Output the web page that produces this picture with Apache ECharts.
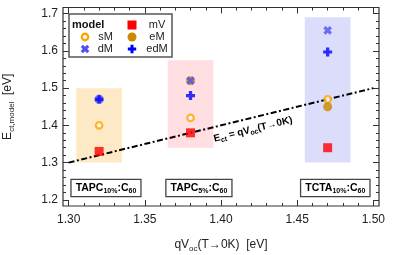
<!DOCTYPE html>
<html><head><meta charset="utf-8">
<script src="https://cdn.jsdelivr.net/npm/echarts@6/dist/echarts.min.js"></script>
<style>html,body{margin:0;padding:0;background:#fff}#c{width:407px;height:255px}</style>
</head><body><div id="c"></div>
<script>
// ---- data ----
const groupX = [1.32, 1.38, 1.47];
const mV  = [1.33, 1.38, 1.34];
const sM  = [1.40, 1.42, 1.47];
const eM  = [null, 1.52, 1.45];
const dM  = [1.47, 1.52, 1.655];
const edM = [1.47, 1.48, 1.597];
const rectX = [[1.305, 1.335], [1.365, 1.395], [1.455, 1.485]];
const rectY = [[1.30, 1.50], [1.34, 1.575], [1.30, 1.69]];
const rectColors = ['#fde9c6', '#ffdfe2', '#dcdcfb'];
const diagLine = [[1.30, 1.30], [1.50, 1.50]];
const xTicks = [1.30, 1.35, 1.40, 1.45, 1.50];
const yTicks = [1.2, 1.3, 1.4, 1.5, 1.6, 1.7];
const boxLabelX = [1.3245, 1.3855, 1.475];
const boxLabelY = 1.232;
const boxTexts = [['TAPC', '10%', ':C', '60'], ['TAPC', '5%', ':C', '60'], ['TCTA', '10%', ':C', '60']];
const lineLabelPos = [1.421, 1.389];

const xMin = 1.2963, xMax = 1.5037, yMin = 1.1835, yMax = 1.7165;
const minorX = []; for (let i = 0; i <= 20; i++) minorX.push(+(1.30 + i * 0.01).toFixed(2));
const minorY = []; for (let i = 0; i <= 25; i++) minorY.push(+(1.2 + i * 0.02).toFixed(2));

const FONT = 'Liberation Sans, Arial, sans-serif';
const TXT = '#222';
const TICK = '#333';
const C = { mV: '#ff0000', sM: '#ffa500', eM: '#cc8800', dM: '#5050f5', edM: '#0000ff' };
const PLUS = 'path://M3.2,0H6.8V3.2H10V6.8H6.8V10H3.2V6.8H0V3.2H3.2Z';

const rich = {
  n: { fontSize: 12, lineHeight: 16, color: TXT, fontFamily: FONT },
  s: { fontSize: 8, lineHeight: 8, verticalAlign: 'bottom', color: TXT, fontFamily: FONT }
};

function xAx(pos, major, showLabel, extra) {
  return Object.assign({
    type: 'value', position: pos, min: xMin, max: xMax, gridIndex: 0,
    axisLine: { show: false }, splitLine: { show: false },
    axisTick: { show: true, inside: true, length: major ? 6 : 3, customValues: major ? xTicks : minorX, lineStyle: { color: TICK, width: 1 } },
    axisLabel: { show: showLabel, customValues: xTicks, formatter: v => v.toFixed(2), color: TXT, fontSize: 12, margin: 8, fontFamily: FONT }
  }, extra || {});
}
function yAx(pos, major, showLabel, extra) {
  return Object.assign({
    type: 'value', position: pos, min: yMin, max: yMax, gridIndex: 0,
    axisLine: { show: false }, splitLine: { show: false },
    axisTick: { show: true, inside: true, length: major ? 6 : 3, customValues: major ? yTicks : minorY, lineStyle: { color: TICK, width: 1 } },
    axisLabel: { show: showLabel, customValues: yTicks, formatter: v => v.toFixed(1), color: TXT, fontSize: 12, margin: 5, fontFamily: FONT }
  }, extra || {});
}

function pts(arr) { return groupX.map((x, i) => arr[i] == null ? null : [x, arr[i]]).filter(p => p); }

const chart = echarts.init(document.getElementById('c'), null, { renderer: 'canvas' });
chart.setOption({
  animation: false,
  backgroundColor: '#fff',
  grid: { left: 63, right: 28, top: 7.5, bottom: 49, containLabel: false, outerBoundsMode: 'none', show: true, borderColor: '#333', borderWidth: 1.2, backgroundColor: 'transparent' },
  xAxis: [
    xAx('bottom', true, true, {
      name: '{n|qV}{s|oc}{n|(T→0K)  [eV]}', nameLocation: 'middle', nameGap: 31,
      nameTextStyle: { rich: rich }
    }),
    xAx('bottom', false, false),
    xAx('top', true, false),
    xAx('top', false, false)
  ],
  yAxis: [
    yAx('left', true, true, {
      name: '{n|E}{s|ct,model}{n|  [eV]}', nameLocation: 'middle', nameGap: 47, nameRotate: 90,
      nameTextStyle: { rich: rich }
    }),
    yAx('left', false, false),
    yAx('right', true, false),
    yAx('right', false, false)
  ],
  series: [
    {
      type: 'line', name: 'diag', data: diagLine, symbol: 'none', silent: true, z: 3,
      lineStyle: { color: '#000', width: 2, type: [6, 2.5, 2, 2.5] },
      markArea: {
        silent: true,
        data: rectX.map((rx, i) => [
          { xAxis: rx[0], yAxis: rectY[i][0], itemStyle: { color: rectColors[i] } },
          { xAxis: rx[1], yAxis: rectY[i][1] }
        ])
      }
    },
    { type: 'scatter', name: 'mV', data: pts(mV), symbol: 'rect', symbolSize: 9, itemStyle: { color: C.mV }, z: 4 },
    { type: 'scatter', name: 'sM', data: pts(sM), symbol: 'circle', symbolSize: 6.5, itemStyle: { color: '#fff', borderColor: C.sM, borderWidth: 2.3 }, z: 4 },
    { type: 'scatter', name: 'eM', data: pts(eM), symbol: 'circle', symbolSize: 9, itemStyle: { color: C.eM }, z: 4 },
    { type: 'scatter', name: 'dM', data: pts(dM), symbol: PLUS, symbolRotate: 45, symbolSize: 9, itemStyle: { color: C.dM }, z: 5 },
    { type: 'scatter', name: 'edM', data: pts(edM), symbol: PLUS, symbolSize: 9, itemStyle: { color: C.edM }, z: 5 }
  ]
});

// annotations positioned through the axes
const g = [];
const boxRich = {
  b: { fontSize: 10.5, fontWeight: 'bold', color: '#111', fontFamily: FONT, lineHeight: 13 },
  bs: { fontSize: 7, fontWeight: 'bold', color: '#111', fontFamily: FONT, lineHeight: 7, verticalAlign: 'bottom' }
};
boxTexts.forEach((t, i) => {
  const p = chart.convertToPixel({ gridIndex: 0 }, [boxLabelX[i], boxLabelY]);
  g.push({
    type: 'text', x: p[0], y: p[1], z: 20,
    style: {
      text: '{b|' + t[0] + '}{bs|' + t[1] + '}{b|' + t[2] + '}{bs|' + t[3] + '}',
      rich: boxRich, align: 'center', verticalAlign: 'middle', textAlign: 'center', textVerticalAlign: 'middle',
      backgroundColor: '#fff', borderColor: '#444', borderWidth: 1.3, padding: [2, 4, 1, 4]
    }
  });
});
const a = chart.convertToPixel({ gridIndex: 0 }, diagLine[0]);
const b = chart.convertToPixel({ gridIndex: 0 }, diagLine[1]);
const ang = Math.atan2(a[1] - b[1], b[0] - a[0]);
const lp = chart.convertToPixel({ gridIndex: 0 }, lineLabelPos);
g.push({
  type: 'text', x: lp[0], y: lp[1], rotation: ang, z: 20,
  style: {
    text: '{b|E}{bs|ct}{b| = qV}{bs|oc}{b|(T→0K)}',
    rich: {
      b: { fontSize: 10, fontWeight: 'bold', color: '#111', fontFamily: FONT, lineHeight: 13 },
      bs: { fontSize: 7, fontWeight: 'bold', color: '#111', fontFamily: FONT, lineHeight: 7, verticalAlign: 'bottom' }
    },
    align: 'center', verticalAlign: 'middle', textAlign: 'center', textVerticalAlign: 'middle'
  }
});

// legend box
const LX = 69, LY = 14;
g.push({ type: 'rect', shape: { x: LX, y: LY, width: 103, height: 43 }, style: { fill: '#fff', stroke: '#555', lineWidth: 1.5 }, z: 20 });
g.push({ type: 'text', x: 72, y: 25, z: 21, style: { text: 'model', font: 'bold 11px ' + FONT, fill: '#111', align: 'left', verticalAlign: 'middle', textAlign: 'left', textVerticalAlign: 'middle' } });
const rows = [25, 37, 49];
const c1 = 85, c2 = 132;
function lab(txt, x, y, al) {
  g.push({ type: 'text', x: x, y: y, z: 21, style: { text: txt, font: '11px ' + FONT, fill: TXT, align: al, verticalAlign: 'middle', textAlign: al, textVerticalAlign: 'middle' } });
}
// mV
g.push({ type: 'rect', shape: { x: c2 - 4.5, y: rows[0] - 4.5, width: 9, height: 9 }, style: { fill: C.mV }, z: 21 });
lab('mV', 157, rows[0], 'center');
// sM
g.push({ type: 'circle', shape: { cx: c1, cy: rows[1], r: 3.25 }, style: { fill: '#fff', stroke: C.sM, lineWidth: 2.3 }, z: 21 });
lab('sM', 113, rows[1], 'right');
// eM
g.push({ type: 'circle', shape: { cx: c2, cy: rows[1], r: 4.5 }, style: { fill: C.eM }, z: 21 });
lab('eM', 157, rows[1], 'center');
function plusPts(t, h) {
  return [[-t, -h], [t, -h], [t, -t], [h, -t], [h, t], [t, t], [t, h], [-t, h], [-t, t], [-h, t], [-h, -t], [-t, -t]];
}
// dM
g.push({ type: 'polygon', x: c1, y: rows[2], rotation: Math.PI / 4, shape: { points: plusPts(1.6, 4.5) }, style: { fill: C.dM }, z: 21 });
lab('dM', 113, rows[2], 'right');
// edM
g.push({ type: 'polygon', x: c2, y: rows[2], shape: { points: plusPts(1.5, 4.2) }, style: { fill: C.edM }, z: 21 });
lab('edM', 157, rows[2], 'center');

chart.setOption({ graphic: g });
</script>
</body></html>
